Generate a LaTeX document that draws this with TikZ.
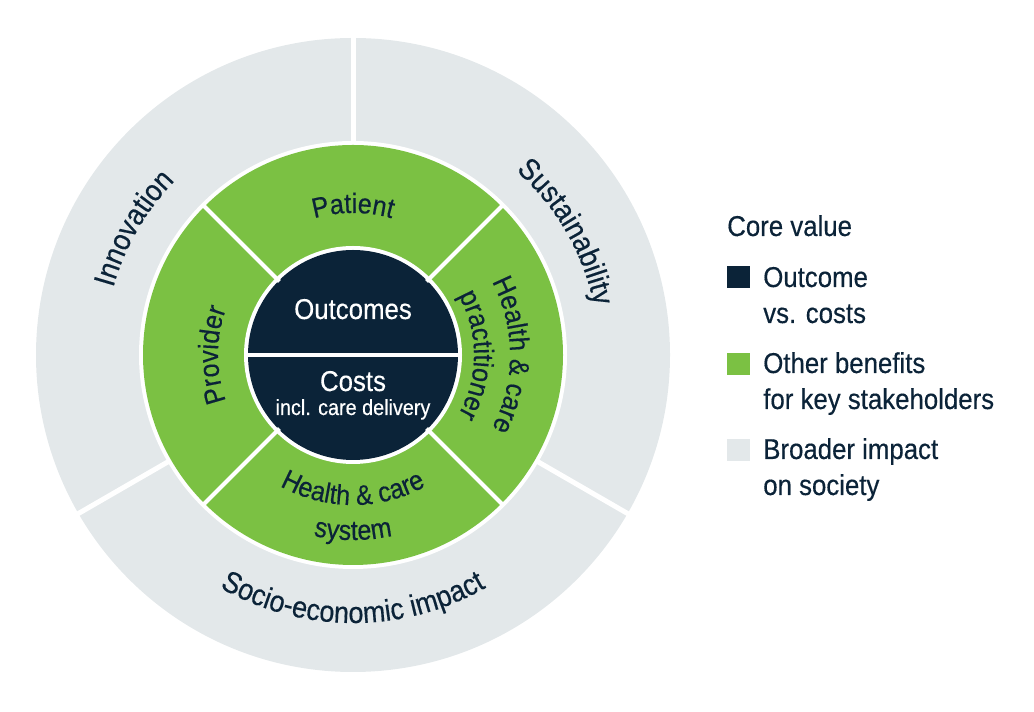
\documentclass[tikz,border=0pt]{standalone}
\usepackage{fontspec}
\setmainfont{Liberation Sans}[FakeStretch=0.9, FakeBold=0.4]
\usetikzlibrary{decorations.text}
\definecolor{navy}{HTML}{0B2338}
\definecolor{leaf}{HTML}{7BC143}
\definecolor{mist}{HTML}{E3E8EA}
\newcommand\ringfont{\fontsize{21}{25}\selectfont}
\newcommand\outerfont{\fontsize{22.5}{26}\selectfont}
\tikzset{
  gapline/.style={white, line width=3.75pt},
  segline/.style={white, line width=3pt},
  curved/.style={decorate, decoration={text along path, text align=center, text color=navy, text={|\ringfont|#1}}},
  outercurved/.style={decorate, decoration={text along path, text align=center, text color=navy, text={|\outerfont|#1}}},
  corelabel/.style={text=white, anchor=base, inner sep=0pt},
  legtext/.style={text=navy, anchor=base west, align=left, inner sep=0pt, font=\fontsize{21.5}{27}\selectfont},
  legbox/.style={inner sep=0pt, minimum width=17.25pt, minimum height=16.5pt, anchor=south west}
}
\begin{document}
\begin{tikzpicture}[x=0.75pt,y=0.75pt]
\useasboundingbox (0,0) rectangle (1034,712);
\begin{scope}[shift={(353,357)}]
  \coordinate (O) at (0,0);
  % rings
  \fill[mist] (O) circle[radius=317];
  \fill[white] (O) circle[radius=214];
  \fill[leaf] (O) circle[radius=210];
  \fill[white] (O) circle[radius=109];
  \fill[navy] (O) circle[radius=105];
  % separators of outer ring
  \foreach \a in {90,210,330} \draw[gapline] (\a:211) -- (\a:320);
  % separators of green ring
  \foreach \a in {45,135,225,315} \draw[segline] (\a:104) -- (\a:212);
  % divider of core
  \draw[segline] (-106,0) -- (106,0);
  % core texts
  \node[corelabel, font=\fontsize{21.5}{25}\selectfont] (outc) at (0,36) {Outcomes};
  \node[corelabel, font=\fontsize{21.5}{25}\selectfont] (cost) at (0,-36) {Costs};
  \node[corelabel, font=\fontsize{16.5}{20}\selectfont] (incl) at (0,-60) {incl. care delivery};
  % green ring labels
  \path[curved={Patient}] (150:142) arc[start angle=150, end angle=30, radius=142];
  \path[curved={Provider}] (240:135) arc[start angle=240, end angle=120, radius=135];
  \path[curved={Health {\&} care}] (60:157) arc[start angle=60, end angle=-60, radius=157];
  \path[curved={practitioner}] (60:121) arc[start angle=60, end angle=-60, radius=121];
  \path[curved={Health {\&} care}] (210:150) arc[start angle=210, end angle=330, radius=150];
  \path[curved={system}] (210:185) arc[start angle=210, end angle=330, radius=185];
  % outer ring labels
  \path[outercurved={Innovation}] (200:249) arc[start angle=200, end angle=100, radius=249];
  \path[outercurved={Sustainability}] (80:246) arc[start angle=80, end angle=-20, radius=246];
  \path[outercurved={Socio-economic impact}] (220:268) arc[start angle=220, end angle=320, radius=268];
\end{scope}
% legend
\node[legtext] (title) at (727,476) {Core value};
\node[legbox, fill=navy] (sq1) at (727,424) {};
\node[legtext] (l1) at (763,389) {Outcome\\vs. costs};
\node[legbox, fill=leaf] (sq2) at (727,337) {};
\node[legtext] (l2) at (763,303) {Other benefits\\for key stakeholders};
\node[legbox, fill=mist] (sq3) at (727,251) {};
\node[legtext] (l3) at (763,217) {Broader impact\\on society};
\end{tikzpicture}
\end{document}
